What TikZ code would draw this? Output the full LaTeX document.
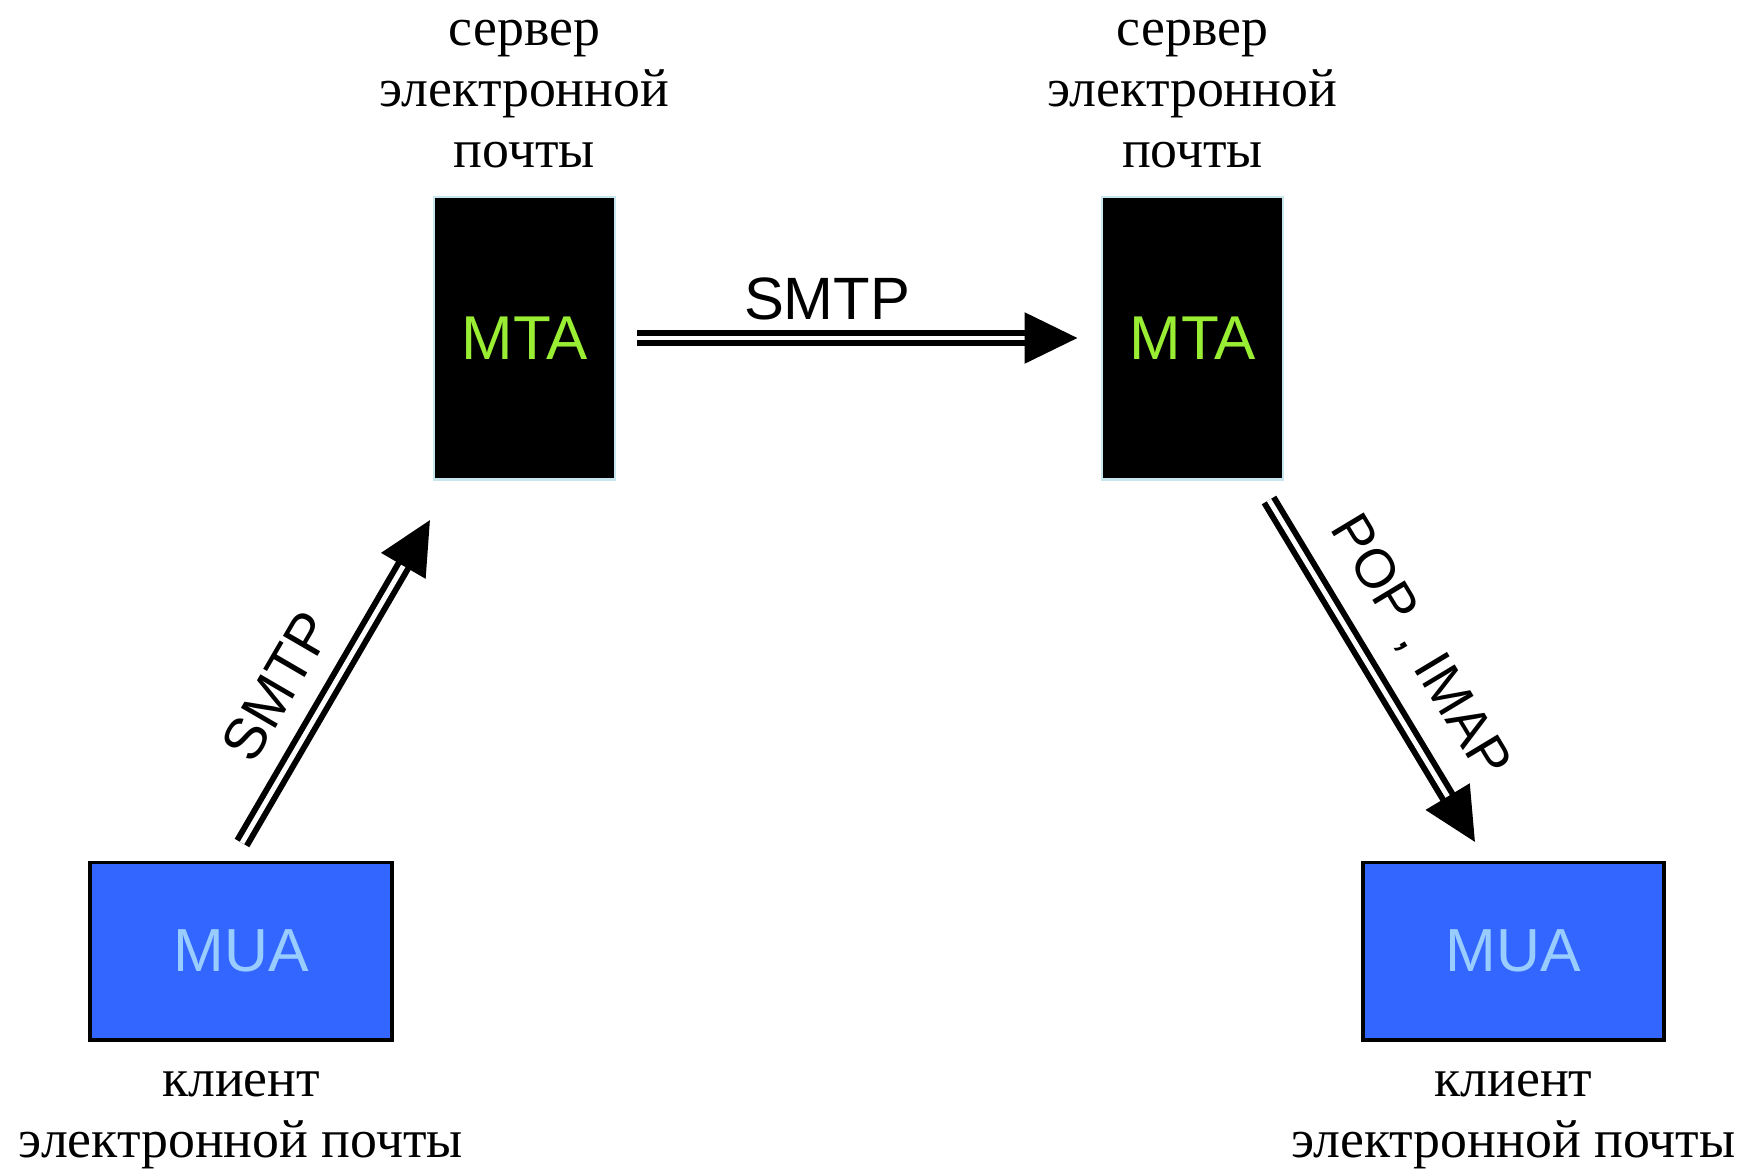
\documentclass[tikz,border=0pt]{standalone}
\usepackage{fontspec}
\setmainfont{Liberation Serif}
\newfontfamily\arialf{Liberation Sans}
\usetikzlibrary{arrows.meta}
\definecolor{mtagreen}{HTML}{99EE33}
\definecolor{muablue}{HTML}{3366FF}
\definecolor{mualight}{HTML}{99CCFF}
\definecolor{mtaborder}{HTML}{C8E6EE}
\begin{document}
\begin{tikzpicture}[x=0.01cm,y=-0.01cm,
  mtabox/.style={draw=mtaborder, line width=0.8pt, fill=black, minimum width=1.81cm, minimum height=2.82cm, inner sep=0, text=mtagreen, font=\arialf\fontsize{17.6pt}{19pt}\selectfont},
  muabox/.style={draw=black, line width=1.1pt, fill=muablue, minimum width=3.01cm, minimum height=1.77cm, inner sep=0, text=mualight, font=\arialf\fontsize{17.3pt}{19pt}\selectfont},
  caption/.style={font=\fontsize{15.3pt}{17.35pt}\selectfont, align=center, inner sep=0},
  dbl/.style={draw=black, line width=1.7pt, double=white, double distance=1.4pt, -{Triangle[length=0.53cm,width=0.50cm]}},
  proto/.style={font=\arialf\fontsize{16.5pt}{18pt}\selectfont, sloped, inner sep=0}
]
\useasboundingbox (0,0) rectangle (1749,1175);
\node[mtabox] (mta1) at (524.5,338) {MTA};
\node[mtabox] (mta2) at (1192.5,338) {MTA};
\node[muabox] (mua1) at (241,951) {MUA};
\node[muabox] (mua2) at (1513.5,951) {MUA};

\node[caption, anchor=south] (cap1) at (524.5,169) {сервер\\электронной\\почты};
\node[caption, anchor=south] (cap2) at (1192.5,169) {сервер\\электронной\\почты};
\node[caption, anchor=north] (cap3) at (241,1070) {клиент\\электронной почты};
\node[caption, anchor=north] (cap4) at (1513.5,1070) {клиент\\электронной почты};

\coordinate (s1) at (242,843);
\coordinate (e1) at (430,520);
\coordinate (s2) at (1269,500);
\coordinate (e2) at (1475,842);

\draw[dbl, shorten <=0.21cm, shorten >=0.23cm] (mta1.east) -- node[proto, font=\arialf\fontsize{17pt}{18pt}\selectfont, pos=0.435, above=0.15cm] (l1) {SMTP} (mta2.west);
\draw[dbl] (s1) -- node[proto, pos=0.41, above=0.25cm] (l2) {SMTP} (e1);
\draw[dbl] (s2) -- node[proto, font=\arialf\fontsize{15.6pt}{18pt}\selectfont, pos=0.51, above=0.27cm] (l3) {POP , IMAP} (e2);
\end{tikzpicture}
\end{document}
